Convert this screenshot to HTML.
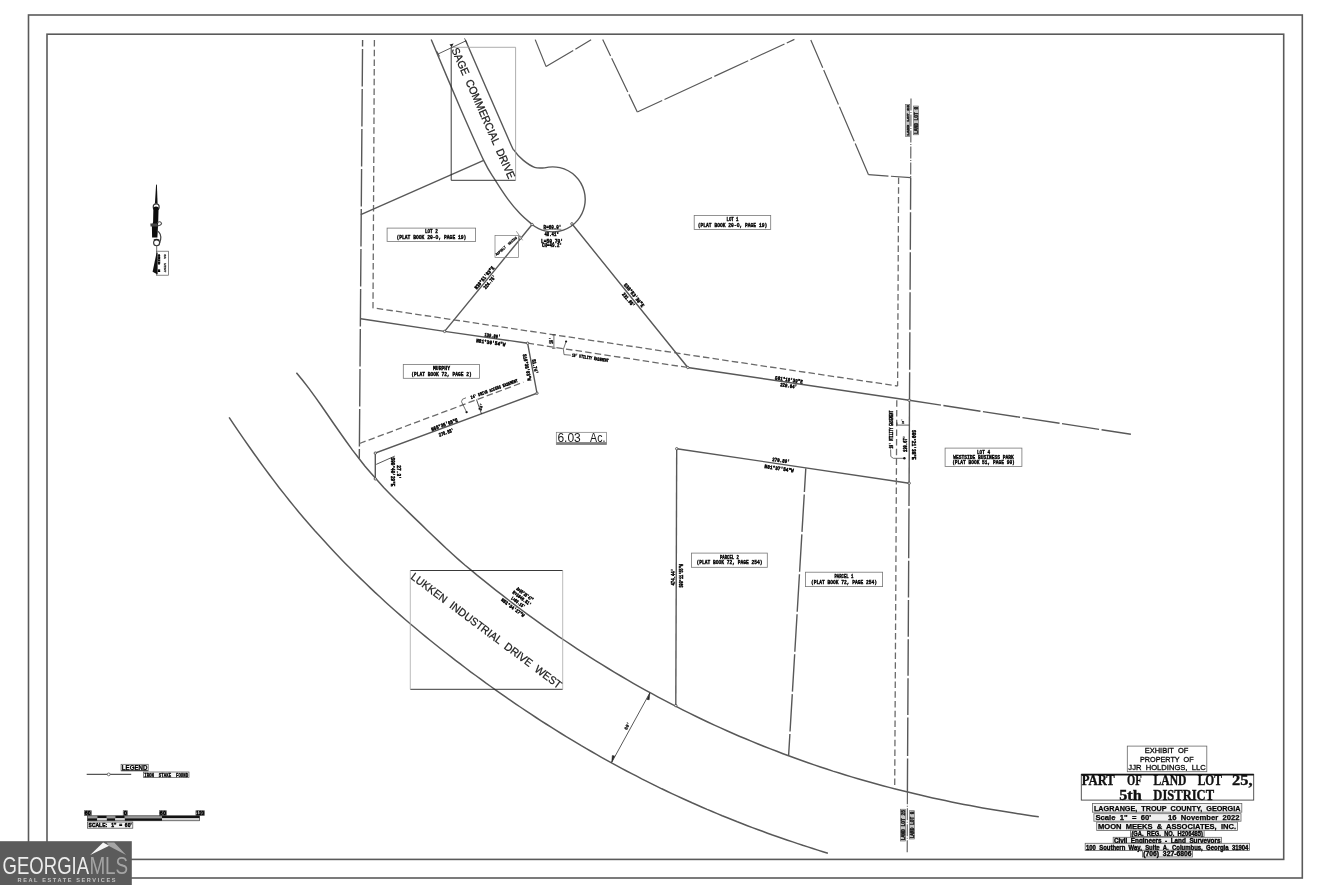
<!DOCTYPE html>
<html><head><meta charset="utf-8"><title>Plat</title>
<style>
html,body{margin:0;padding:0;background:#fff;}
body{width:1320px;height:885px;overflow:hidden;font-family:"Liberation Sans",sans-serif;}
svg{position:absolute;left:0;top:0;display:block;will-change:transform;}
</style></head><body>
<svg width="1320" height="885" viewBox="0 0 1320 885" stroke-linecap="butt">
<rect x="28.5" y="15" width="1273.8" height="863" stroke="#5a5a5a" stroke-width="1.6" fill="none"/>
<rect x="47" y="34.2" width="1236.7" height="825.2" stroke="#5a5a5a" stroke-width="1.6" fill="none"/>
<path d="M296.4 372.7 L302.6 380.3 L308.9 388.4 L315.1 396.9 L321.4 405.7 L327.6 414.7 L333.8 423.7 L340.1 432.7 L346.3 441.5 L352.5 450.1 L358.8 458.3 L365 466.2 L371.3 473.6 L377.5 480.6 L383.7 487.4 L390 493.9 L396.2 500.2 L402.5 506.3 L408.7 512.4 L414.9 518.4 L421.2 524.4 L427.4 530.5 L433.7 536.5 L439.9 542.4 L446.1 548.3 L452.4 554 L458.6 559.6 L464.8 565 L471.1 570.2 L477.3 575.4 L483.6 580.4 L489.8 585.4 L496 590.3 L502.3 595.2 L508.5 600 L514.8 604.8 L521 609.5 L527.2 614.1 L533.5 618.6 L539.7 623.1 L545.9 627.6 L552.2 631.9 L558.4 636.3 L564.7 640.5 L570.9 644.7 L577.1 648.8 L583.4 652.9 L589.6 656.9 L595.9 660.8 L602.1 664.7 L608.3 668.5 L614.6 672.3 L620.8 676 L627 679.7 L633.3 683.3 L639.5 686.8 L645.8 690.3 L652 693.7 L658.2 697.1 L664.5 700.4 L670.7 703.7 L677 706.9 L683.2 710.1 L689.4 713.2 L695.7 716.2 L701.9 719.2 L708.2 722.2 L714.4 725.1 L720.6 727.9 L726.9 730.7 L733.1 733.5 L739.3 736.2 L745.6 738.8 L751.8 741.4 L758.1 744 L764.3 746.5 L770.5 748.9 L776.8 751.3 L783 753.7 L789.3 756 L795.5 758.3 L801.7 760.5 L808 762.7 L814.2 764.9 L820.4 767 L826.7 769 L832.9 771.1 L839.2 773 L845.4 775 L851.6 776.9 L857.9 778.7 L864.1 780.5 L870.4 782.3 L876.6 784 L882.8 785.7 L889.1 787.4 L895.3 789 L901.5 790.6 L907.8 792.1 L914 793.6 L920.3 795.1 L926.5 796.5 L932.7 797.9 L939 799.3 L945.2 800.6 L951.5 801.9 L957.7 803.2 L963.9 804.4 L970.2 805.6 L976.4 806.7 L982.7 807.9 L988.9 809 L995.1 810.1 L1001.4 811.1 L1007.6 812.1 L1013.8 813.1 L1020.1 814 L1026.3 815 L1032.6 815.9 L1038.8 816.7" stroke="#585858" stroke-width="1.5" fill="none"/>
<path d="M229.1 417.3 L234.1 424.8 L239.2 432.3 L244.2 439.6 L249.2 446.8 L254.3 454 L259.3 461 L264.3 467.9 L269.4 474.7 L274.4 481.4 L279.4 488 L284.5 494.4 L289.5 500.7 L294.5 506.9 L299.5 512.9 L304.6 518.9 L309.6 524.7 L314.6 530.5 L319.7 536.1 L324.7 541.6 L329.7 547 L334.8 552.4 L339.8 557.7 L344.8 562.9 L349.9 568 L354.9 573 L359.9 577.9 L365 582.8 L370 587.6 L375 592.4 L380.1 597 L385.1 601.7 L390.1 606.2 L395.2 610.7 L400.2 615.1 L405.2 619.5 L410.2 623.8 L415.3 628 L420.3 632.2 L425.3 636.4 L430.4 640.5 L435.4 644.5 L440.4 648.5 L445.5 652.5 L450.5 656.4 L455.5 660.3 L460.6 664.2 L465.6 668 L470.6 671.8 L475.7 675.5 L480.7 679.2 L485.7 682.9 L490.8 686.5 L495.8 690.1 L500.8 693.6 L505.9 697.2 L510.9 700.7 L515.9 704.1 L521 707.5 L526 710.9 L531 714.2 L536 717.5 L541.1 720.8 L546.1 724 L551.1 727.2 L556.2 730.4 L561.2 733.5 L566.2 736.6 L571.3 739.7 L576.3 742.7 L581.3 745.7 L586.4 748.6 L591.4 751.5 L596.4 754.4 L601.5 757.3 L606.5 760.1 L611.5 762.9 L616.6 765.6 L621.6 768.3 L626.6 771 L631.7 773.6 L636.7 776.2 L641.7 778.8 L646.8 781.3 L651.8 783.8 L656.8 786.3 L661.8 788.8 L666.9 791.2 L671.9 793.6 L676.9 795.9 L682 798.2 L687 800.5 L692 802.8 L697.1 805 L702.1 807.2 L707.1 809.4 L712.2 811.5 L717.2 813.6 L722.2 815.7 L727.3 817.7 L732.3 819.8 L737.3 821.8 L742.4 823.7 L747.4 825.7 L752.4 827.6 L757.5 829.5 L762.5 831.3 L767.5 833.2 L772.5 835 L777.6 836.7 L782.6 838.5 L787.6 840.2 L792.7 841.9 L797.7 843.6 L802.7 845.3 L807.8 846.9 L812.8 848.5 L817.8 850.1 L822.9 851.7 L827.9 853.2" stroke="#585858" stroke-width="1.5" fill="none"/>
<path d="M431.2 39.6 C436.2 51.3 452.4 89.9 461.1 110 C469.9 130.1 478.1 148.8 483.7 160.4 C489.3 172 491 173.4 494.9 179.7 C498.8 186 503.2 192.8 507.3 198.4 C511.4 204 515.6 209 519.7 213.3 C523.8 217.7 530 222.6 532.1 224.5 A32.5 32.5 0 1 0 544.6 167.9 L544.6 167.9 C542.9 167.8 538.1 168.6 534.6 167.3 C531.1 166.1 526.7 163.1 523.4 160.4 C520.1 157.7 517.3 154.9 514.7 151.1 C512.1 147.3 516 156 507.8 137.5 C499.6 119 472.5 56.2 465.4 40" stroke="#585858" stroke-width="1.4" fill="none"/>
<path d="M362.6 40 L359.3 458.6" stroke="#585858" stroke-width="1.4" fill="none" stroke-dasharray="37.5 2.5" stroke-dashoffset="31"/>
<path d="M374.4 40 L373 307.8 L897.6 386" stroke="#6a6a6a" stroke-width="1.3" fill="none" stroke-dasharray="6.5 3.2"/>
<path d="M898.6 177.5 L897.6 386" stroke="#6a6a6a" stroke-width="1.3" fill="none" stroke-dasharray="6.5 3.2"/>
<path d="M360.8 214.6 L483.7 160.4" stroke="#585858" stroke-width="1.4" fill="none"/>
<path d="M360.8 318.8 L444.6 331.4 L527.6 343.2 L537 393.2 L375.3 453.1 L375.3 478.9" stroke="#585858" stroke-width="1.4" fill="none"/>
<path d="M376.2 464.4 L394.8 456.1" stroke="#585858" stroke-width="1" fill="none"/>
<path d="M444.6 331.4 L532.1 224.5" stroke="#585858" stroke-width="1.4" fill="none"/>
<path d="M571.9 223.8 L687.8 367.5 L909.2 400.3" stroke="#585858" stroke-width="1.4" fill="none"/>
<path d="M909.2 400.3 L1130.9 434.2" stroke="#585858" stroke-width="1.4" fill="none" stroke-dasharray="37.5 2.5" stroke-dashoffset="5.4"/>
<path d="M676.7 448.7 L909.2 483.2" stroke="#585858" stroke-width="1.4" fill="none"/>
<path d="M676.7 448.7 L675.8 705.6" stroke="#585858" stroke-width="1.4" fill="none"/>
<path d="M805.8 468.4 L788.6 755.6" stroke="#585858" stroke-width="1.4" fill="none" stroke-dasharray="37.5 2.5" stroke-dashoffset="13.9"/>
<path d="M896.8 400.3 L894.7 789.1" stroke="#6a6a6a" stroke-width="1.3" fill="none" stroke-dasharray="6.5 3.2"/>
<path d="M527.6 343.2 L687.8 367.5" stroke="#6a6a6a" stroke-width="1.3" fill="none" stroke-dasharray="6.5 3.2"/>
<path d="M359.5 443.5 L523.4 382.2" stroke="#6a6a6a" stroke-width="1.3" fill="none" stroke-dasharray="6.5 3.2"/>
<path d="M911 98.4 L910.7 177.6" stroke="#585858" stroke-width="1.1" fill="none" stroke-dasharray="12 1.5 1 1.5"/>
<path d="M910.7 177.6 L909.5 400.3" stroke="#585858" stroke-width="1.4" fill="none" stroke-dasharray="37.5 2.5" stroke-dashoffset="5.3"/>
<path d="M909.5 400.3 L909.1 483.2" stroke="#585858" stroke-width="1.4" fill="none"/>
<path d="M909.1 483.2 L907.4 792.3" stroke="#585858" stroke-width="1.4" fill="none" stroke-dasharray="22.85 2.5 49.8 2.5 36.6 2.5 36.7 2.5 36.7 2.5 36.7 2.5 38.5 2.5 60"/>
<path d="M907.4 792.3 L907.2 853.8" stroke="#585858" stroke-width="1.1" fill="none" stroke-dasharray="12 1.5 1 1.5"/>
<path d="M535.2 39.6 L546.1 66.6" stroke="#585858" stroke-width="1.2" fill="none"/>
<path d="M546.1 66.6 L591.1 39.8" stroke="#585858" stroke-width="1.2" fill="none" stroke-dasharray="37.5 2.5" stroke-dashoffset="5.9"/>
<path d="M602.7 39.5 L637.3 112" stroke="#585858" stroke-width="1.2" fill="none" stroke-dasharray="37.5 2.5" stroke-dashoffset="19.2"/>
<path d="M637.3 112 L794.4 39.4" stroke="#585858" stroke-width="1.2" fill="none" stroke-dasharray="27.45 2.5 52.4 2.5 37.3 2.5 37.5 2.5 30"/>
<path d="M810.8 39.9 L868.5 174.7" stroke="#585858" stroke-width="1.2" fill="none" stroke-dasharray="37.5 2.5" stroke-dashoffset="7.2"/>
<path d="M868.5 174.7 L910.7 177.6" stroke="#585858" stroke-width="1.2" fill="none" stroke-dasharray="37.5 2.5" stroke-dashoffset="17.5"/>
<path d="M649.8 692.9 L611.7 762.4" stroke="#585858" stroke-width="1" fill="none"/>
<path d="M649.8 692.9 L646.9 699.4 L649.2 699.8 Z M611.7 762.4 L614.6 755.9 L612.3 755.5 Z" fill="#222" stroke="#222" stroke-width="0.5"/>
<rect x="387.1" y="228.1" width="88.5" height="13.3" stroke="#777" stroke-width="0.8" fill="none"/>
<text xml:space="preserve" x="431.4" y="233.2" font-size="5.6" font-weight="bold" font-family="Liberation Mono" fill="#000" text-anchor="middle" textLength="13" lengthAdjust="spacingAndGlyphs" stroke="#000" stroke-width="0.4">LOT 2</text>
<text xml:space="preserve" x="431.4" y="239.2" font-size="5.6" font-weight="bold" font-family="Liberation Mono" fill="#000" text-anchor="middle" textLength="70" lengthAdjust="spacingAndGlyphs" stroke="#000" stroke-width="0.4">(PLAT BOOK 20-O, PAGE 19)</text>
<rect x="694.2" y="215.4" width="76.5" height="14.1" stroke="#777" stroke-width="0.8" fill="none"/>
<text xml:space="preserve" x="732.5" y="220.8" font-size="5.6" font-weight="bold" font-family="Liberation Mono" fill="#000" text-anchor="middle" textLength="12" lengthAdjust="spacingAndGlyphs" stroke="#000" stroke-width="0.4">LOT 1</text>
<text xml:space="preserve" x="732.5" y="226.8" font-size="5.6" font-weight="bold" font-family="Liberation Mono" fill="#000" text-anchor="middle" textLength="69.5" lengthAdjust="spacingAndGlyphs" stroke="#000" stroke-width="0.4">(PLAT BOOK 20-O, PAGE 19)</text>
<rect x="403.3" y="364.4" width="76.3" height="13.9" stroke="#777" stroke-width="0.8" fill="none"/>
<text xml:space="preserve" x="441.5" y="370" font-size="5.6" font-weight="bold" font-family="Liberation Mono" fill="#000" text-anchor="middle" textLength="17" lengthAdjust="spacingAndGlyphs" stroke="#000" stroke-width="0.4">MURPHY</text>
<text xml:space="preserve" x="441.5" y="375.9" font-size="5.6" font-weight="bold" font-family="Liberation Mono" fill="#000" text-anchor="middle" textLength="60.6" lengthAdjust="spacingAndGlyphs" stroke="#000" stroke-width="0.4">(PLAT BOOK 72, PAGE 2)</text>
<rect x="945.1" y="448.1" width="76.8" height="18.3" stroke="#777" stroke-width="0.8" fill="none"/>
<text xml:space="preserve" x="983.5" y="453.7" font-size="5.6" font-weight="bold" font-family="Liberation Mono" fill="#000" text-anchor="middle" textLength="13" lengthAdjust="spacingAndGlyphs" stroke="#000" stroke-width="0.4">LOT 4</text>
<text xml:space="preserve" x="983.5" y="458.8" font-size="5.6" font-weight="bold" font-family="Liberation Mono" fill="#000" text-anchor="middle" textLength="60.5" lengthAdjust="spacingAndGlyphs" stroke="#000" stroke-width="0.4">WESTSIDE BUSINESS PARK</text>
<text xml:space="preserve" x="983.5" y="464.2" font-size="5.6" font-weight="bold" font-family="Liberation Mono" fill="#000" text-anchor="middle" textLength="62.7" lengthAdjust="spacingAndGlyphs" stroke="#000" stroke-width="0.4">(PLAT BOOK 51, PAGE 90)</text>
<rect x="691.5" y="553.1" width="75.8" height="14.2" stroke="#777" stroke-width="0.8" fill="none"/>
<text xml:space="preserve" x="729.4" y="558.6" font-size="5.6" font-weight="bold" font-family="Liberation Mono" fill="#000" text-anchor="middle" textLength="19" lengthAdjust="spacingAndGlyphs" stroke="#000" stroke-width="0.4">PARCEL 2</text>
<text xml:space="preserve" x="729.4" y="564.4" font-size="5.6" font-weight="bold" font-family="Liberation Mono" fill="#000" text-anchor="middle" textLength="66" lengthAdjust="spacingAndGlyphs" stroke="#000" stroke-width="0.4">(PLAT BOOK 72, PAGE 254)</text>
<rect x="805.4" y="572.2" width="77.2" height="14.4" stroke="#777" stroke-width="0.8" fill="none"/>
<text xml:space="preserve" x="844" y="578.1" font-size="5.6" font-weight="bold" font-family="Liberation Mono" fill="#000" text-anchor="middle" textLength="19" lengthAdjust="spacingAndGlyphs" stroke="#000" stroke-width="0.4">PARCEL 1</text>
<text xml:space="preserve" x="844" y="583.7" font-size="5.6" font-weight="bold" font-family="Liberation Mono" fill="#000" text-anchor="middle" textLength="66" lengthAdjust="spacingAndGlyphs" stroke="#000" stroke-width="0.4">(PLAT BOOK 72, PAGE 254)</text>
<rect x="556.3" y="432.3" width="50.3" height="12.3" stroke="#777" stroke-width="0.7" fill="none"/>
<rect x="556.3" y="442.1" width="50.3" height="2.6" stroke="none" stroke-width="0" fill="#808080"/>
<text xml:space="preserve" x="557.4" y="441.7" font-size="12" font-weight="normal" font-family="Liberation Sans" fill="#1a1a1a" text-anchor="start" textLength="23.4" lengthAdjust="spacingAndGlyphs">6.03</text>
<text xml:space="preserve" x="590.1" y="441.7" font-size="12" font-weight="normal" font-family="Liberation Sans" fill="#1a1a1a" text-anchor="start" textLength="15.3" lengthAdjust="spacingAndGlyphs">Ac.</text>
<path d="M451.2 47.3 V180.3 H515.6" stroke="#222" stroke-width="0.9" fill="none"/>
<path d="M451.2 47.3 H515.6 V180.3" stroke="#999" stroke-width="0.8" fill="none"/>
<text xml:space="preserve" x="458.5" y="46.5" font-size="11" font-weight="normal" font-family="Liberation Sans" fill="#1a1a1a" text-anchor="start" textLength="142" lengthAdjust="spacingAndGlyphs" transform="rotate(66.2 458.5 46.5)" dominant-baseline="hanging" stroke="#1a1a1a" stroke-width="0.25">SAGE  COMMERCIAL  DRIVE</text>
<path d="M410.3 570.5 H562.7 M410.3 689.3 H562.7" stroke="#222" stroke-width="0.9" fill="none"/>
<path d="M410.3 570.5 V689.3 M562.7 570.5 V689.3" stroke="#aaa" stroke-width="0.8" fill="none"/>
<text xml:space="preserve" x="414.9" y="571.8" font-size="11" font-weight="normal" font-family="Liberation Sans" fill="#1a1a1a" text-anchor="start" textLength="185" lengthAdjust="spacingAndGlyphs" transform="rotate(36.8 414.9 571.8)" dominant-baseline="hanging" stroke="#1a1a1a" stroke-width="0.25">LUKKEN  INDUSTRIAL  DRIVE  WEST</text>
<rect x="1127.3" y="746.1" width="79.5" height="25.6" stroke="#666" stroke-width="0.8" fill="none"/>
<text xml:space="preserve" x="1166.5" y="753.4" font-size="8" font-weight="normal" font-family="Liberation Sans" fill="#111" text-anchor="middle" textLength="43.7" lengthAdjust="spacingAndGlyphs" stroke="#000" stroke-width="0.3">EXHIBIT  OF</text>
<text xml:space="preserve" x="1166.8" y="761.8" font-size="8" font-weight="normal" font-family="Liberation Sans" fill="#111" text-anchor="middle" textLength="53.5" lengthAdjust="spacingAndGlyphs" stroke="#000" stroke-width="0.3">PROPERTY  OF</text>
<text xml:space="preserve" x="1167" y="770.2" font-size="8" font-weight="normal" font-family="Liberation Sans" fill="#111" text-anchor="middle" textLength="77.3" lengthAdjust="spacingAndGlyphs" stroke="#000" stroke-width="0.3">JJR  HOLDINGS,  LLC</text>
<rect x="1081.3" y="774.4" width="172.4" height="25.7" stroke="#444" stroke-width="0.9" fill="none"/>
<line x1="1081.3" y1="774.6" x2="1253.7" y2="774.6" stroke="#111" stroke-width="1.8"/>
<text xml:space="preserve" x="1081.7" y="785" font-size="14" font-weight="bold" font-family="Liberation Serif" fill="#111" text-anchor="start" textLength="33.1" lengthAdjust="spacingAndGlyphs" stroke="#111" stroke-width="0.35">PART</text>
<text xml:space="preserve" x="1127" y="785" font-size="14" font-weight="bold" font-family="Liberation Serif" fill="#111" text-anchor="start" textLength="14.7" lengthAdjust="spacingAndGlyphs" stroke="#111" stroke-width="0.35">OF</text>
<text xml:space="preserve" x="1153.6" y="785" font-size="14" font-weight="bold" font-family="Liberation Serif" fill="#111" text-anchor="start" textLength="32.9" lengthAdjust="spacingAndGlyphs" stroke="#111" stroke-width="0.35">LAND</text>
<text xml:space="preserve" x="1197.7" y="785" font-size="14" font-weight="bold" font-family="Liberation Serif" fill="#111" text-anchor="start" textLength="24.2" lengthAdjust="spacingAndGlyphs" stroke="#111" stroke-width="0.35">LOT</text>
<text xml:space="preserve" x="1232.1" y="785" font-size="14" font-weight="bold" font-family="Liberation Serif" fill="#111" text-anchor="start" textLength="20.5" lengthAdjust="spacingAndGlyphs" stroke="#111" stroke-width="0.35">25,</text>
<text xml:space="preserve" x="1119.2" y="799.6" font-size="14" font-weight="bold" font-family="Liberation Serif" fill="#111" text-anchor="start" textLength="22.5" lengthAdjust="spacingAndGlyphs" stroke="#111" stroke-width="0.35">5th</text>
<text xml:space="preserve" x="1153.3" y="799.6" font-size="14" font-weight="bold" font-family="Liberation Serif" fill="#111" text-anchor="start" textLength="60.8" lengthAdjust="spacingAndGlyphs" stroke="#111" stroke-width="0.35">DISTRICT</text>
<rect x="1092.5" y="803.6" width="149.3" height="8.6" stroke="#666" stroke-width="0.8" fill="#f1f1f1"/>
<text xml:space="preserve" x="1167.2" y="810.8" font-size="7.5" font-weight="bold" font-family="Liberation Sans" fill="#000" text-anchor="middle" textLength="146.5" lengthAdjust="spacingAndGlyphs" stroke="#000" stroke-width="0.25">LAGRANGE,  TROUP  COUNTY,  GEORGIA</text>
<rect x="1093.9" y="813.7" width="147.1" height="7.5" stroke="#666" stroke-width="0.8" fill="#f1f1f1"/>
<text xml:space="preserve" x="1167.5" y="820.2" font-size="7.5" font-weight="bold" font-family="Liberation Sans" fill="#000" text-anchor="middle" textLength="144" lengthAdjust="spacingAndGlyphs" stroke="#000" stroke-width="0.25">Scale  1"  =  60'        16  November  2022</text>
<rect x="1096.7" y="822.1" width="140.9" height="8.4" stroke="#666" stroke-width="0.8" fill="#f1f1f1"/>
<text xml:space="preserve" x="1167" y="829.3" font-size="7.5" font-weight="bold" font-family="Liberation Sans" fill="#000" text-anchor="middle" textLength="138" lengthAdjust="spacingAndGlyphs" stroke="#000" stroke-width="0.25">MOON  MEEKS  &amp;  ASSOCIATES,  INC.</text>
<rect x="1130.6" y="830.2" width="73.5" height="6.4" stroke="#666" stroke-width="0.8" fill="#f1f1f1"/>
<text xml:space="preserve" x="1167.2" y="835.8" font-size="6.5" font-weight="bold" font-family="Liberation Sans" fill="#000" text-anchor="middle" textLength="71.5" lengthAdjust="spacingAndGlyphs" stroke="#000" stroke-width="0.35">(GA.  REG.  NO.  H206485)</text>
<rect x="1113.2" y="837.3" width="108.3" height="5.8" stroke="#666" stroke-width="0.8" fill="#f1f1f1"/>
<text xml:space="preserve" x="1167.2" y="842.5" font-size="6.3" font-weight="bold" font-family="Liberation Sans" fill="#000" text-anchor="middle" textLength="106.5" lengthAdjust="spacingAndGlyphs" stroke="#000" stroke-width="0.35">Civil  Engineers  -  Land  Surveyors</text>
<rect x="1085.2" y="843.3" width="164.3" height="7.1" stroke="#666" stroke-width="0.8" fill="#f1f1f1"/>
<text xml:space="preserve" x="1167.2" y="849.6" font-size="6.5" font-weight="bold" font-family="Liberation Sans" fill="#000" text-anchor="middle" textLength="162.5" lengthAdjust="spacingAndGlyphs" stroke="#000" stroke-width="0.35">100  Southern  Way,  Suite  A,  Columbus,  Georgia  31904</text>
<rect x="1142.4" y="850.2" width="50" height="6.8" stroke="#666" stroke-width="0.8" fill="#f1f1f1"/>
<text xml:space="preserve" x="1167.4" y="856.3" font-size="6.5" font-weight="bold" font-family="Liberation Sans" fill="#000" text-anchor="middle" textLength="48.2" lengthAdjust="spacingAndGlyphs" stroke="#000" stroke-width="0.35">(706)  327-6806</text>
<rect x="121.1" y="764.3" width="27.1" height="6.6" stroke="#555" stroke-width="0.7" fill="#f6f6f6"/>
<text xml:space="preserve" x="134.6" y="770.2" font-size="6.4" font-weight="bold" font-family="Liberation Sans" fill="#000" text-anchor="middle" textLength="25.5" lengthAdjust="spacingAndGlyphs" stroke="#000" stroke-width="0.25">LEGEND</text>
<line x1="121.5" y1="770.6" x2="147.8" y2="770.6" stroke="#222" stroke-width="0.8"/>
<line x1="86.7" y1="774.4" x2="131.2" y2="774.4" stroke="#555" stroke-width="1.2"/>
<circle cx="108.7" cy="774.4" r="1.4" fill="#fff" stroke="#555" stroke-width="0.8"/>
<rect x="143.4" y="772" width="45.6" height="5.5" stroke="#555" stroke-width="0.7" fill="#f6f6f6"/>
<text xml:space="preserve" x="166.2" y="777" font-size="5.6" font-weight="bold" font-family="Liberation Mono" fill="#000" text-anchor="middle" textLength="44" lengthAdjust="spacingAndGlyphs" stroke="#000" stroke-width="0.35">IRON  STAKE  FOUND</text>
<rect x="84.3" y="810.7" width="7.1" height="4.9" stroke="#444" stroke-width="0.6" fill="#bbb"/>
<text xml:space="preserve" x="87.8" y="815.2" font-size="5.8" font-weight="bold" font-family="Liberation Sans" fill="#000" text-anchor="middle" textLength="6.1" lengthAdjust="spacingAndGlyphs" stroke="#000" stroke-width="0.5">60</text>
<rect x="123.2" y="810.7" width="4.3" height="4.9" stroke="#444" stroke-width="0.6" fill="#bbb"/>
<text xml:space="preserve" x="125.3" y="815.2" font-size="5.8" font-weight="bold" font-family="Liberation Sans" fill="#000" text-anchor="middle" textLength="3.3" lengthAdjust="spacingAndGlyphs" stroke="#000" stroke-width="0.5">0</text>
<rect x="159.3" y="810.7" width="7.1" height="4.9" stroke="#444" stroke-width="0.6" fill="#bbb"/>
<text xml:space="preserve" x="162.9" y="815.2" font-size="5.8" font-weight="bold" font-family="Liberation Sans" fill="#000" text-anchor="middle" textLength="6.1" lengthAdjust="spacingAndGlyphs" stroke="#000" stroke-width="0.5">60</text>
<rect x="195.9" y="810.7" width="8.7" height="4.9" stroke="#444" stroke-width="0.6" fill="#bbb"/>
<text xml:space="preserve" x="200.2" y="815.2" font-size="5.8" font-weight="bold" font-family="Liberation Sans" fill="#000" text-anchor="middle" textLength="7.7" lengthAdjust="spacingAndGlyphs" stroke="#000" stroke-width="0.5">120</text>
<rect x="87.5" y="815.8" width="9.8" height="2.5" stroke="none" stroke-width="0" fill="#9a9a9a"/>
<rect x="87.5" y="818.3" width="9.8" height="2.5" stroke="none" stroke-width="0" fill="#111"/>
<rect x="97.3" y="815.8" width="9.5" height="2.5" stroke="none" stroke-width="0" fill="#111"/>
<rect x="97.3" y="818.3" width="9.5" height="2.5" stroke="none" stroke-width="0" fill="#d4d4d4"/>
<rect x="106.8" y="815.8" width="8.5" height="2.5" stroke="none" stroke-width="0" fill="#9a9a9a"/>
<rect x="106.8" y="818.3" width="8.5" height="2.5" stroke="none" stroke-width="0" fill="#111"/>
<rect x="115.3" y="815.8" width="9.5" height="2.5" stroke="none" stroke-width="0" fill="#111"/>
<rect x="115.3" y="818.3" width="9.5" height="2.5" stroke="none" stroke-width="0" fill="#d4d4d4"/>
<rect x="124.8" y="815.8" width="37.2" height="2.5" stroke="none" stroke-width="0" fill="#9a9a9a"/>
<rect x="124.8" y="818.3" width="37.2" height="2.5" stroke="none" stroke-width="0" fill="#111"/>
<rect x="162" y="815.8" width="37.6" height="2.5" stroke="none" stroke-width="0" fill="#111"/>
<rect x="162" y="818.3" width="37.6" height="2.5" stroke="none" stroke-width="0" fill="#d4d4d4"/>
<rect x="87.5" y="815.8" width="112.1" height="5" stroke="#222" stroke-width="0.6" fill="none"/>
<rect x="87.5" y="822" width="45.3" height="6.2" stroke="#444" stroke-width="0.7" fill="#f4f4f4"/>
<text xml:space="preserve" x="110.1" y="827.4" font-size="6.2" font-weight="bold" font-family="Liberation Sans" fill="#000" text-anchor="middle" textLength="43" lengthAdjust="spacingAndGlyphs" stroke="#000" stroke-width="0.45">SCALE:   1"  =  60'</text>
<path d="M156.1 184.6 L156.9 184.8 L157.6 203.8 L154.9 203.8 Z" fill="#111"/>
<circle cx="156.2" cy="206.9" r="3.0" fill="#fff" stroke="#333" stroke-width="1.1"/>
<path d="M153.4 207.6 Q156 205.6 158.6 207.6 L158.2 222.3 L157.4 237.6 L152.1 237.6 L151.9 226 L153.1 222 Z" fill="#0d0d0d"/>
<path d="M150.3 223.6 L157.6 223.4 L157.6 226.4 L150.6 226.4 Z" fill="#444"/>
<path d="M157.4 222.4 Q160.5 220.6 161.6 223.4 Q161 225.6 157.6 225.9" fill="none" stroke="#555" stroke-width="1.1"/>
<path d="M156.8 230.5 Q161.6 233.2 160.6 239.6 Q160 242.6 158.6 245" fill="none" stroke="#444" stroke-width="1.2"/>
<circle cx="156.6" cy="242.8" r="3.0" fill="#fff" stroke="#333" stroke-width="1.1"/>
<path d="M153.6 239.6 Q156.6 238 159.6 239.8 L159.2 241 Q156.6 239.6 154 241 Z" fill="#222"/>
<line x1="156.7" y1="245.8" x2="156.7" y2="251.3" stroke="#444" stroke-width="0.8"/>
<rect x="156.5" y="251.2" width="12.1" height="24" stroke="#555" stroke-width="0.7" fill="none"/>
<path d="M156.6 252.6 L157.6 252.6 L157.6 274.6 L152.6 271.8 Z" fill="#111"/>
<text xml:space="preserve" x="159.6" y="264.8" font-size="4.4" font-weight="bold" font-family="Liberation Mono" fill="#000" stroke="#000" stroke-width="0.45" text-anchor="middle" textLength="18" lengthAdjust="spacingAndGlyphs" transform="rotate(90 159.6 263.2)">GRID  N</text>
<text xml:space="preserve" x="165.4" y="264.6" font-size="4" font-weight="bold" font-family="Liberation Mono" fill="#333" stroke="#333" stroke-width="0.25" text-anchor="middle" textLength="18" lengthAdjust="spacingAndGlyphs" transform="rotate(90 165.4 263.2)">GA  WEST</text>
<text xml:space="preserve" x="484.2" y="279.5" font-size="5.3" font-weight="bold" font-family="Liberation Mono" fill="#000" stroke="#000" stroke-width="0.45" text-anchor="middle" textLength="28" lengthAdjust="spacingAndGlyphs" transform="rotate(-50.7 484.2 277.6)">N39°51'03"E</text>
<text xml:space="preserve" x="489.5" y="283.9" font-size="5.3" font-weight="bold" font-family="Liberation Mono" fill="#000" stroke="#000" stroke-width="0.45" text-anchor="middle" textLength="16.4" lengthAdjust="spacingAndGlyphs" transform="rotate(-50.7 489.5 282)">224.75'</text>
<text xml:space="preserve" x="634.2" y="296.9" font-size="5.3" font-weight="bold" font-family="Liberation Mono" fill="#000" stroke="#000" stroke-width="0.45" text-anchor="middle" textLength="29" lengthAdjust="spacingAndGlyphs" transform="rotate(51.1 634.2 295)">S38°53'39"E</text>
<text xml:space="preserve" x="628.6" y="301.6" font-size="5.3" font-weight="bold" font-family="Liberation Mono" fill="#000" stroke="#000" stroke-width="0.45" text-anchor="middle" textLength="17" lengthAdjust="spacingAndGlyphs" transform="rotate(51.1 628.6 299.7)">231.85'</text>
<text xml:space="preserve" x="492.5" y="337.5" font-size="5.3" font-weight="bold" font-family="Liberation Mono" fill="#000" stroke="#000" stroke-width="0.45" text-anchor="middle" textLength="16" lengthAdjust="spacingAndGlyphs" transform="rotate(8.1 492.5 335.6)">139.80'</text>
<text xml:space="preserve" x="490.8" y="344.3" font-size="5.3" font-weight="bold" font-family="Liberation Mono" fill="#000" stroke="#000" stroke-width="0.45" text-anchor="middle" textLength="29.6" lengthAdjust="spacingAndGlyphs" transform="rotate(8.1 490.8 342.4)">N81°30'54"W</text>
<text xml:space="preserve" x="527.2" y="369.3" font-size="5.3" font-weight="bold" font-family="Liberation Mono" fill="#000" stroke="#000" stroke-width="0.45" text-anchor="middle" textLength="27" lengthAdjust="spacingAndGlyphs" transform="rotate(79.4 527.2 367.4)">S10°38'03"W</text>
<text xml:space="preserve" x="535.2" y="368.4" font-size="5.3" font-weight="bold" font-family="Liberation Mono" fill="#000" stroke="#000" stroke-width="0.45" text-anchor="middle" textLength="14.5" lengthAdjust="spacingAndGlyphs" transform="rotate(79.4 535.2 366.5)">51.74'</text>
<text xml:space="preserve" x="444.4" y="426.4" font-size="5.3" font-weight="bold" font-family="Liberation Mono" fill="#000" stroke="#000" stroke-width="0.45" text-anchor="middle" textLength="28" lengthAdjust="spacingAndGlyphs" transform="rotate(-20.3 444.4 424.5)">N68°35'08"E</text>
<text xml:space="preserve" x="446.2" y="434.3" font-size="5.3" font-weight="bold" font-family="Liberation Mono" fill="#000" stroke="#000" stroke-width="0.45" text-anchor="middle" textLength="15.5" lengthAdjust="spacingAndGlyphs" transform="rotate(-20.3 446.2 432.4)">278.88'</text>
<text xml:space="preserve" x="392.5" y="473.9" font-size="5.3" font-weight="bold" font-family="Liberation Mono" fill="#000" stroke="#000" stroke-width="0.45" text-anchor="middle" textLength="29" lengthAdjust="spacingAndGlyphs" transform="rotate(90 392.5 472)">S00°40'29"E</text>
<text xml:space="preserve" x="399.3" y="474" font-size="5.3" font-weight="bold" font-family="Liberation Mono" fill="#000" stroke="#000" stroke-width="0.45" text-anchor="middle" textLength="13.5" lengthAdjust="spacingAndGlyphs" transform="rotate(90 399.3 472.1)">27.3'</text>
<text xml:space="preserve" x="789" y="381.5" font-size="5.3" font-weight="bold" font-family="Liberation Mono" fill="#000" stroke="#000" stroke-width="0.45" text-anchor="middle" textLength="28" lengthAdjust="spacingAndGlyphs" transform="rotate(8.4 789 379.6)">S81°19'39"E</text>
<text xml:space="preserve" x="788.6" y="387.5" font-size="5.3" font-weight="bold" font-family="Liberation Mono" fill="#000" stroke="#000" stroke-width="0.45" text-anchor="middle" textLength="17" lengthAdjust="spacingAndGlyphs" transform="rotate(8.4 788.6 385.6)">220.64'</text>
<text xml:space="preserve" x="781.1" y="462.3" font-size="5.3" font-weight="bold" font-family="Liberation Mono" fill="#000" stroke="#000" stroke-width="0.45" text-anchor="middle" textLength="17.7" lengthAdjust="spacingAndGlyphs" transform="rotate(8.4 781.1 460.4)">270.89'</text>
<text xml:space="preserve" x="779.2" y="470.3" font-size="5.3" font-weight="bold" font-family="Liberation Mono" fill="#000" stroke="#000" stroke-width="0.45" text-anchor="middle" textLength="29.5" lengthAdjust="spacingAndGlyphs" transform="rotate(8.4 779.2 468.4)">N81°37'54"W</text>
<text xml:space="preserve" x="673.3" y="579.1" font-size="5.3" font-weight="bold" font-family="Liberation Mono" fill="#000" stroke="#000" stroke-width="0.45" text-anchor="middle" textLength="16.7" lengthAdjust="spacingAndGlyphs" transform="rotate(-90 673.3 577.2)">474.44'</text>
<text xml:space="preserve" x="681.6" y="577.7" font-size="5.3" font-weight="bold" font-family="Liberation Mono" fill="#000" stroke="#000" stroke-width="0.45" text-anchor="middle" textLength="23.6" lengthAdjust="spacingAndGlyphs" transform="rotate(-90 681.6 575.8)">S00°11'55"W</text>
<text xml:space="preserve" x="891.3" y="431.3" font-size="4.7" font-weight="bold" font-family="Liberation Mono" fill="#000" stroke="#000" stroke-width="0.4" text-anchor="middle" textLength="38" lengthAdjust="spacingAndGlyphs" transform="rotate(-90 891.3 429.6)">10' UTILITY EASEMENT</text>
<text xml:space="preserve" x="905" y="445.9" font-size="5.3" font-weight="bold" font-family="Liberation Mono" fill="#000" stroke="#000" stroke-width="0.45" text-anchor="middle" textLength="16" lengthAdjust="spacingAndGlyphs" transform="rotate(-90 905 444)">130.67'</text>
<text xml:space="preserve" x="913.8" y="446.8" font-size="5.3" font-weight="bold" font-family="Liberation Mono" fill="#000" stroke="#000" stroke-width="0.45" text-anchor="middle" textLength="29.7" lengthAdjust="spacingAndGlyphs" transform="rotate(90 913.8 444.9)">S00°21'38"E</text>
<text xml:space="preserve" x="902.6" y="423.1" font-size="4.2" font-weight="bold" font-family="Liberation Mono" fill="#000" stroke="#000" stroke-width="0.25" text-anchor="middle" textLength="5" lengthAdjust="spacingAndGlyphs" transform="rotate(-90 902.6 421.6)">10'</text>
<path d="M897 425.1 L909.2 425.1" stroke="#333" stroke-width="0.8" fill="none"/>
<path d="M897 422.5 L897 425.1" stroke="#333" stroke-width="0.8" fill="none"/>
<path d="M890.6 449.5 L890.8 456.5 L893.3 458.3 L904.2 458.3" stroke="#333" stroke-width="0.7" fill="none"/>
<circle cx="904.4" cy="458.3" r="1.2" fill="#111"/>
<text xml:space="preserve" x="552.5" y="228.9" font-size="5" font-weight="bold" font-family="Liberation Mono" fill="#000" stroke="#000" stroke-width="0.4" text-anchor="middle" textLength="17.8" lengthAdjust="spacingAndGlyphs" transform="rotate(0 552.5 227.1)">R=60.0'</text>
<path d="M543.6 229.3 L561.4 229.3" stroke="#333" stroke-width="0.6" fill="none"/>
<text xml:space="preserve" x="551.6" y="235.8" font-size="5" font-weight="bold" font-family="Liberation Mono" fill="#000" stroke="#000" stroke-width="0.4" text-anchor="middle" textLength="14.4" lengthAdjust="spacingAndGlyphs" transform="rotate(0 551.6 234)">48.41°</text>
<text xml:space="preserve" x="552" y="242.5" font-size="5" font-weight="bold" font-family="Liberation Mono" fill="#000" stroke="#000" stroke-width="0.4" text-anchor="middle" textLength="22" lengthAdjust="spacingAndGlyphs" transform="rotate(0 552 240.7)">L=50.70'</text>
<text xml:space="preserve" x="552" y="246.9" font-size="5" font-weight="bold" font-family="Liberation Mono" fill="#000" stroke="#000" stroke-width="0.4" text-anchor="middle" textLength="20" lengthAdjust="spacingAndGlyphs" transform="rotate(0 552 245.1)">CH=49.2'</text>
<text xml:space="preserve" x="524.9" y="595.8" font-size="4.9" font-weight="bold" font-family="Liberation Mono" fill="#000" stroke="#000" stroke-width="0.45" text-anchor="middle" textLength="20" lengthAdjust="spacingAndGlyphs" transform="rotate(36.9 524.9 594.1)">Δ=05°25'47"</text>
<text xml:space="preserve" x="522" y="600" font-size="4.9" font-weight="bold" font-family="Liberation Mono" fill="#000" stroke="#000" stroke-width="0.45" text-anchor="middle" textLength="22" lengthAdjust="spacingAndGlyphs" transform="rotate(36.9 522 598.2)">R=1046.51'</text>
<text xml:space="preserve" x="518.3" y="604.1" font-size="4.9" font-weight="bold" font-family="Liberation Mono" fill="#000" stroke="#000" stroke-width="0.45" text-anchor="middle" textLength="16" lengthAdjust="spacingAndGlyphs" transform="rotate(36.9 518.3 602.3)">L=99.15'</text>
<text xml:space="preserve" x="512.9" y="609.3" font-size="4.9" font-weight="bold" font-family="Liberation Mono" fill="#000" stroke="#000" stroke-width="0.45" text-anchor="middle" textLength="28" lengthAdjust="spacingAndGlyphs" transform="rotate(36.9 512.9 607.6)">N51°34'27"W</text>
<text xml:space="preserve" x="627.2" y="727.5" font-size="4.6" font-weight="bold" font-family="Liberation Mono" fill="#111" stroke="#111" stroke-width="0.3" text-anchor="middle" textLength="8" lengthAdjust="spacingAndGlyphs" transform="rotate(-61.3 627.2 725.8)">60'</text>
<path d="M553.9 334.7 L553.9 348.3" stroke="#333" stroke-width="0.7" fill="none"/>
<path d="M552.2 334.9 L555.6 334.5" stroke="#333" stroke-width="0.7" fill="none"/>
<path d="M552.2 348.5 L555.6 348.1" stroke="#333" stroke-width="0.7" fill="none"/>
<text xml:space="preserve" x="551" y="342.5" font-size="4.6" font-weight="bold" font-family="Liberation Mono" fill="#000" stroke="#000" stroke-width="0.3" text-anchor="middle" textLength="6.5" lengthAdjust="spacingAndGlyphs" transform="rotate(-90 551 340.8)">10'</text>
<circle cx="566.1" cy="341.5" r="1.1" fill="#111"/>
<path d="M566.1 341.5 L563.4 349.2 L564 354.6 L570.8 355.2" stroke="#333" stroke-width="0.7" fill="none"/>
<text xml:space="preserve" x="590.3" y="359.3" font-size="4.7" font-weight="bold" font-family="Liberation Mono" fill="#000" stroke="#000" stroke-width="0.4" text-anchor="middle" textLength="37" lengthAdjust="spacingAndGlyphs" transform="rotate(8.8 590.3 357.6)">10' UTILITY EASEMENT</text>
<path d="M476.5 399.5 L481.5 414" stroke="#222" stroke-width="0.8" fill="none"/>
<text xml:space="preserve" x="480.8" y="408.5" font-size="4.6" font-weight="bold" font-family="Liberation Mono" fill="#000" stroke="#000" stroke-width="0.3" text-anchor="middle" textLength="7" lengthAdjust="spacingAndGlyphs" transform="rotate(-70 480.8 406.8)">24'</text>
<circle cx="466.6" cy="412.2" r="1.1" fill="#111"/>
<path d="M466.6 412.2 L461.5 401.7 L462.5 399.2 L466 397.8" stroke="#333" stroke-width="0.7" fill="none"/>
<text xml:space="preserve" x="494.2" y="390.5" font-size="4.7" font-weight="bold" font-family="Liberation Mono" fill="#000" stroke="#000" stroke-width="0.4" text-anchor="middle" textLength="50" lengthAdjust="spacingAndGlyphs" transform="rotate(-20.2 494.2 388.8)">24' DRIVE ACCESS EASEMENT</text>
<rect x="495" y="235.4" width="23.5" height="22.1" stroke="#777" stroke-width="0.7" fill="none"/>
<text xml:space="preserve" x="506.2" y="247.4" font-size="3.8" font-weight="bold" font-family="Liberation Mono" fill="#000" stroke="#000" stroke-width="0.25" text-anchor="middle" textLength="27" lengthAdjust="spacingAndGlyphs" transform="rotate(-40.5 506.2 246)">ASPHALT  PAVING</text>
<circle cx="520.4" cy="237.7" r="1.4" fill="#fff" stroke="#555" stroke-width="0.7"/>
<path d="M516.4 231.3 L522.6 240.3" stroke="#555" stroke-width="0.6" fill="none"/>
<path d="M438.3 53.9 L465.8 40.9" stroke="#333" stroke-width="0.8" fill="none"/>
<path d="M437 51.3 L439.6 56.5" stroke="#333" stroke-width="0.8" fill="none"/>
<path d="M464.5 38.3 L467.1 43.5" stroke="#333" stroke-width="0.8" fill="none"/>
<path d="M449.5 44.5 L453.6 43.6 L451.6 47.2 Z" fill="#222"/>
<rect x="905.4" y="104.3" width="4.3" height="32.2" stroke="#666" stroke-width="0.6" fill="#c4c4c4"/>
<text xml:space="preserve" x="907.5" y="121.9" font-size="4.1" font-weight="bold" font-family="Liberation Mono" fill="#222" stroke="#222" stroke-width="0.45" text-anchor="middle" textLength="30.7" lengthAdjust="spacingAndGlyphs" transform="rotate(-90 907.5 120.4)">LAND LOT 25</text>
<rect x="913.4" y="106" width="5.2" height="28.8" stroke="#666" stroke-width="0.6" fill="#c4c4c4"/>
<text xml:space="preserve" x="916" y="122.2" font-size="4.9" font-weight="bold" font-family="Liberation Mono" fill="#222" stroke="#222" stroke-width="0.45" text-anchor="middle" textLength="27.3" lengthAdjust="spacingAndGlyphs" transform="rotate(-90 916 120.4)">LAND LOT 8</text>
<rect x="900.6" y="809.2" width="5" height="31.8" stroke="#666" stroke-width="0.6" fill="#c4c4c4"/>
<text xml:space="preserve" x="903.1" y="826.8" font-size="4.8" font-weight="bold" font-family="Liberation Mono" fill="#222" stroke="#222" stroke-width="0.45" text-anchor="middle" textLength="30.3" lengthAdjust="spacingAndGlyphs" transform="rotate(-90 903.1 825.1)">LAND LOT 25</text>
<rect x="909.6" y="810.7" width="4.8" height="28.3" stroke="#666" stroke-width="0.6" fill="#c4c4c4"/>
<text xml:space="preserve" x="912" y="826.5" font-size="4.6" font-weight="bold" font-family="Liberation Mono" fill="#222" stroke="#222" stroke-width="0.45" text-anchor="middle" textLength="26.8" lengthAdjust="spacingAndGlyphs" transform="rotate(-90 912 824.9)">LAND LOT 8</text>
<circle cx="444.6" cy="331.4" r="1.2" fill="#eee" stroke="#444" stroke-width="0.8"/>
<circle cx="527.6" cy="343.2" r="1.2" fill="#eee" stroke="#444" stroke-width="0.8"/>
<circle cx="537" cy="393.2" r="1.2" fill="#eee" stroke="#444" stroke-width="0.8"/>
<circle cx="375.3" cy="453.1" r="1.2" fill="#eee" stroke="#444" stroke-width="0.8"/>
<circle cx="375.3" cy="478.9" r="1.2" fill="#eee" stroke="#444" stroke-width="0.8"/>
<circle cx="532.1" cy="224.5" r="1.2" fill="#eee" stroke="#444" stroke-width="0.8"/>
<circle cx="571.9" cy="223.8" r="1.2" fill="#eee" stroke="#444" stroke-width="0.8"/>
<circle cx="687.8" cy="367.5" r="1.2" fill="#eee" stroke="#444" stroke-width="0.8"/>
<circle cx="909.2" cy="400.3" r="1.2" fill="#eee" stroke="#444" stroke-width="0.8"/>
<circle cx="676.7" cy="448.7" r="1.2" fill="#eee" stroke="#444" stroke-width="0.8"/>
<circle cx="909.2" cy="483.2" r="1.2" fill="#eee" stroke="#444" stroke-width="0.8"/>
<circle cx="675.8" cy="705.6" r="1.2" fill="#eee" stroke="#444" stroke-width="0.8"/>

<rect x="0" y="841.2" width="131.8" height="44" fill="#5b5b5b"/>
<path d="M106.6 842.5 L114.3 842.4 L126.1 855.1 L109.4 846.2 Z" fill="#a6a6a6"/>
<path d="M90.2 855.1 L103.1 842.5 L109.2 845.8 Z" fill="#f6f6f6"/>
<text x="2.6" y="874.1" font-family="Liberation Sans" font-size="23.6" fill="#ececec" textLength="86.5" lengthAdjust="spacingAndGlyphs">GEORGIA</text>
<text x="89.4" y="874.1" font-family="Liberation Sans" font-size="23.6" fill="#a4a4a4" textLength="38.8" lengthAdjust="spacingAndGlyphs">MLS</text>
<text x="17.5" y="882.4" font-family="Liberation Sans" font-weight="bold" font-size="5.6" fill="#c4c4c4" textLength="98" lengthAdjust="spacing">REAL ESTATE SERVICES</text>

</svg>
</body></html>
